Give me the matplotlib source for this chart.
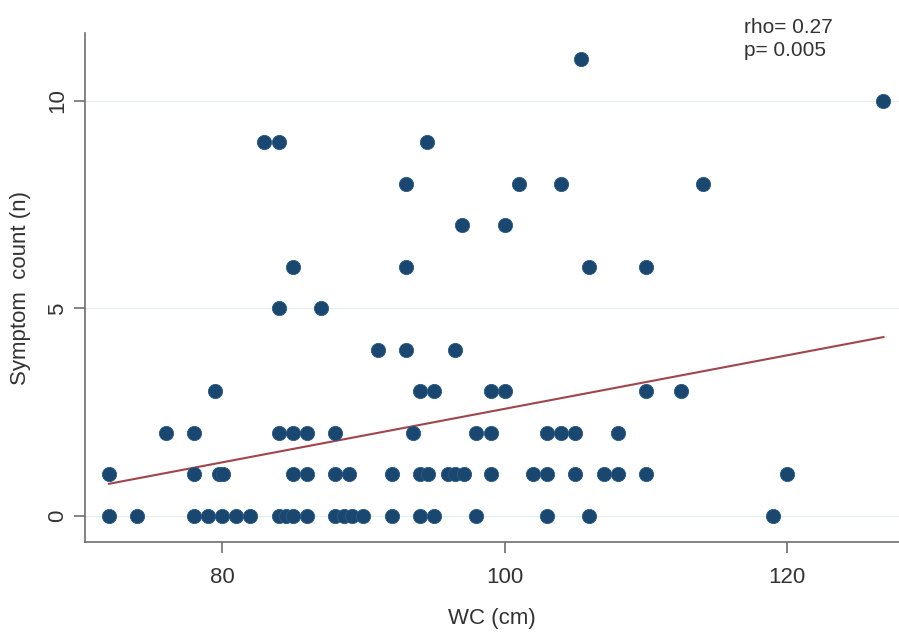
import numpy as np
import matplotlib
matplotlib.use('Agg')
import matplotlib.pyplot as plt

plt.rcParams['font.family'] = ['Liberation Sans', 'DejaVu Sans']

# waist circumference (cm) grouped by symptom count
wc_by_count = {
    0: [72, 74, 78, 79, 80, 81, 82, 84, 84.5, 85, 86, 88, 88.6, 89.2, 90,
        92, 94, 95, 98, 103, 106, 119],
    1: [72, 78, 79.8, 80.1, 85, 86, 88, 89, 92, 94, 94.6, 96, 96.5, 97.1,
        99, 102, 103, 105, 107, 108, 110, 120],
    2: [76, 78, 84, 85, 86, 88, 93.5, 98, 99, 103, 104, 105, 108],
    3: [79.5, 94, 95, 99, 100, 110, 112.5],
    4: [91, 93, 96.5],
    5: [84, 87],
    6: [85, 93, 106, 110],
    7: [97, 100],
    8: [93, 101, 104, 114],
    9: [83, 84, 94.5],
    10: [126.8],
    11: [105.4],
}
wc = np.array([v for k in wc_by_count for v in wc_by_count[k]])
count = np.array([k for k in wc_by_count for v in wc_by_count[k]])

# fitted line as drawn in the original (some points overlap and are hidden)
fit_slope = 0.0645
fit_intercept = -3.87

rho_text = 'rho= 0.27\np= 0.005'

fig = plt.figure(figsize=(8.99, 6.37), dpi=100)
ax = fig.add_axes([0.0945, 0.149, 0.9055, 0.799])

ax.scatter(wc, count, s=105, color='#1a476f', edgecolors='#2a5a85',
           linewidths=0.6, zorder=3)

xs = np.array([wc.min(), wc.max()])
ax.plot(xs, fit_intercept + fit_slope * xs, color='#a0454b', lw=1.5, zorder=2)

ax.set_xlim(70.3, 127.9)
ax.set_ylim(-0.63, 11.63)
ax.set_xticks([80, 100, 120])
ax.set_yticks([0, 5, 10])
ax.grid(axis='y', color='#e6eeef', lw=1.0, zorder=0)

for s in ['top', 'right']:
    ax.spines[s].set_visible(False)
for s in ['left', 'bottom']:
    ax.spines[s].set_color('#6e6e6e')
    ax.spines[s].set_linewidth(1.2)

ax.tick_params(axis='both', colors='#6e6e6e', length=8, width=1.2,
               labelsize=16, labelcolor='#333333')
ax.tick_params(axis='y', pad=4)
ax.tick_params(axis='x', pad=10)
for lbl in ax.get_yticklabels():
    lbl.set_rotation(90)
    lbl.set_va('center')

ax.set_xlabel('WC (cm)', fontsize=16, color='#333333', labelpad=14)
ax.set_ylabel('Symptom  count (n)', fontsize=16, color='#333333', labelpad=12)

fig.text(0.828, 0.972, rho_text, fontsize=15, color='#333333',
         va='top', ha='left', linespacing=1.25)

fig.savefig('out.png', dpi=100)
